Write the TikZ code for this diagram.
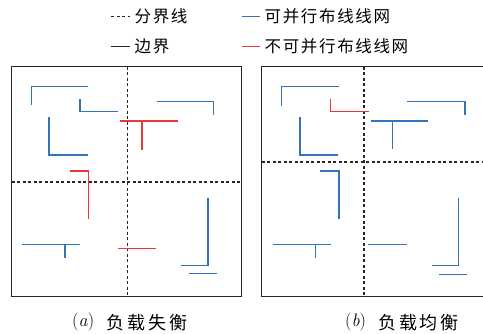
\documentclass[tikz,border=0pt]{standalone}
\usepackage{fontspec}
\newfontfamily\cjk{Noto Sans CJK SC}
\newfontfamily\cjkleg[LetterSpace=10]{Noto Sans CJK SC}
\newfontfamily\cjkcap[LetterSpace=16]{Noto Sans CJK SC}
\definecolor{netblue}{RGB}{50,115,185}
\definecolor{netred}{RGB}{235,55,60}
\begin{document}
\begin{tikzpicture}[x=1pt,y=-1pt,
  frame/.style={line width=1.5pt,black!85},
  divider/.style={line width=1.3pt,black!85,dash pattern=on 3pt off 2.5pt},
  bnet/.style={line width=1.4pt,netblue},
  rnet/.style={line width=1.4pt,netred},
  legtext/.style={anchor=west,inner sep=0pt,font=\fontsize{16.5}{16.5}\cjkleg},
  captext/.style={anchor=west,inner sep=0pt,font=\fontsize{18}{18}\cjkcap},
  captag/.style={anchor=west,inner sep=0pt,font=\fontsize{18}{18}\selectfont}]
\useasboundingbox (0,0) rectangle (483,333);
% legend
\coordinate (l1a) at (111,16.5); \coordinate (l1b) at (130,16.5);
\draw[divider] (l1a) -- (l1b);
\node[legtext] (t1) at (134.5,16.5) {分界线};
\coordinate (l2a) at (111,46.5); \coordinate (l2b) at (130,46.5);
\draw[frame,line width=1.4pt] (l2a) -- (l2b);
\node[legtext] (t2) at (134.5,46.5) {边界};
\coordinate (l3a) at (241.5,16.5); \coordinate (l3b) at (260,16.5);
\draw[bnet] (l3a) -- (l3b);
\node[legtext] (t3) at (264.5,16.5) {可并行布线线网};
\coordinate (l4a) at (241.5,46.5); \coordinate (l4b) at (260,46.5);
\draw[rnet] (l4a) -- (l4b);
\node[legtext] (t4) at (264.5,46.5) {不可并行布线线网};
% panel a
\draw[divider] (127.3,66.7) -- (127.3,296.7);
\draw[divider] (11.7,182) -- (241.7,182);
\draw[frame] (11.7,66.7) rectangle (241.7,296.7);
\draw[bnet] (31.7,105) -- (31.7,86.7) -- (88.3,86.7);
\draw[bnet] (80,99.3) -- (80,111.7) -- (118.3,111.7);
\draw[bnet] (49,117.3) -- (49,155) -- (87.7,155);
\draw[bnet] (156.7,101.7) -- (213.7,101.7) -- (213.7,115);
\draw[rnet] (120,121) -- (177.7,121);
\draw[rnet] (142,121) -- (142,150);
\draw[rnet] (70,171) -- (88.3,171) -- (88.3,219.3);
\draw[bnet] (22.3,244.3) -- (80,244.3);
\draw[bnet] (65,244.3) -- (65,257.7);
\draw[rnet] (118.3,248.7) -- (156,248.7);
\draw[bnet] (208,198.3) -- (208,265.7) -- (181,265.7);
\draw[bnet] (189.3,273.3) -- (216.7,273.3);
% panel b
\draw[divider] (364,66.7) -- (364,296.7);
\draw[divider] (261.7,162) -- (483,162);
\draw[frame] (483,66.7) -- (261.7,66.7) -- (261.7,296.7) -- (483,296.7);
\draw[bnet] (281.7,105.7) -- (281.7,86.7) -- (339,86.7);
\draw[rnet] (330.7,99.3) -- (330.7,111.7) -- (369.3,111.7);
\draw[bnet] (300,117.3) -- (300,155) -- (338.3,155);
\draw[bnet] (370.7,121) -- (428.3,121);
\draw[bnet] (392.7,121) -- (392.7,149.3);
\draw[bnet] (407.3,101.7) -- (465,101.7) -- (465,115);
\draw[bnet] (320,171) -- (339,171) -- (339,219.3);
\draw[bnet] (272.7,244.3) -- (330.7,244.3);
\draw[bnet] (315.7,244.3) -- (315.7,257.7);
\draw[bnet] (368.3,244.7) -- (406.7,244.7);
\draw[bnet] (458.3,198.3) -- (458.3,265.7) -- (431.7,265.7);
\draw[bnet] (439.3,274.7) -- (466.7,274.7);
% captions
\node[captag] (ca) at (72,322.5) {(\textit{a})};
\node[captext] (cat) at (106.5,322.5) {负载失衡};
\node[captag] (cb) at (345,322.5) {(\textit{b})};
\node[captext] (cbt) at (378,322.5) {负载均衡};
\end{tikzpicture}
\end{document}
